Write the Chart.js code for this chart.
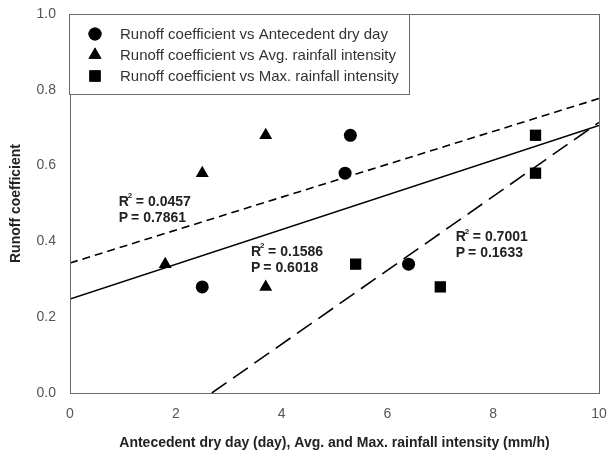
<!DOCTYPE html>
<html>
<head>
<meta charset="utf-8">
<script src="https://cdn.jsdelivr.net/npm/chart.js@4/dist/chart.umd.min.js"></script>
<style>
html,body{margin:0;padding:0;background:#fff;}
#wrap{width:607px;height:454px;position:relative;}
</style>
</head>
<body>
<div id="wrap"><canvas id="c" width="607" height="454"></canvas></div>
<script>
// ---- data ----
const dryDayX = [2.5, 5.2, 5.3, 6.4];
const dryDayY = [0.28, 0.58, 0.68, 0.34];
const avgX = [1.8, 2.5, 3.7, 3.7];
const avgY = [0.34, 0.58, 0.68, 0.28];
const maxX = [5.4, 7.0, 8.8, 8.8];
const maxY = [0.34, 0.28, 0.68, 0.58];
// fitted lines, endpoints
const dryFitX = [0, 10];
const dryFitY = [0.248, 0.706];
const avgFitX = [0, 10];
const avgFitY = [0.343, 0.777];
const maxFitX = [2.68, 10];
const maxFitY = [0, 0.714];
const seriesNames = [
  'Runoff coefficient vs Antecedent dry day',
  'Runoff coefficient vs Avg. rainfall intensity',
  'Runoff coefficient vs Max. rainfall intensity'
];
const xTicks = [0, 2, 4, 6, 8, 10];
const yTicks = [0.0, 0.2, 0.4, 0.6, 0.8, 1.0];
const statLabels = [
  {r2: '0.0457', p: '0.7861'},
  {r2: '0.1586', p: '0.6018'},
  {r2: '0.7001', p: '0.1633'}
];

const zip = (xs, ys) => xs.map((x, i) => ({x: x, y: ys[i]}));

const FONT = '"Liberation Sans", Arial, sans-serif';

const framePlugin = {
  id: 'frame',
  afterDraw(chart) {
    const {ctx, chartArea: a} = chart;
    ctx.save();
    ctx.strokeStyle = '#6a6a6a';
    ctx.lineWidth = 1;
    ctx.strokeRect(a.left + 0.5, a.top + 0.5, a.right - a.left, a.bottom - a.top);
    ctx.restore();
  }
};

const legendPlugin = {
  id: 'boxLegend',
  afterDraw(chart) {
    const {ctx, chartArea: a} = chart;
    const bx = a.left - 1, by = a.top, bw = 340, bh = 80;
    ctx.save();
    ctx.fillStyle = '#fff';
    ctx.fillRect(bx, by, bw, bh);
    ctx.strokeStyle = '#6a6a6a';
    ctx.lineWidth = 1;
    ctx.strokeRect(bx + 0.5, by + 0.5, bw, bh);
    const styles = ['circle', 'triangle', 'rect'];
    const radii = [6.5, 7.5, 8];
    ctx.font = '15px ' + FONT;
    ctx.textBaseline = 'middle';
    for (let i = 0; i < 3; i++) {
      const y = by + 20 + i * 21;
      ctx.fillStyle = '#000';
      ctx.strokeStyle = '#000';
      Chart.helpers.drawPoint(ctx, {pointStyle: styles[i], radius: radii[i], borderWidth: 0}, bx + 26, y);
      ctx.fill();
      ctx.fillStyle = '#333';
      ctx.fillText(seriesNames[i], bx + 51, y + 1);
    }
    ctx.restore();
  }
};

const statPlugin = {
  id: 'stats',
  afterDraw(chart) {
    const {ctx, scales} = chart;
    const pos = [{x: 0.92, y: 0.504}, {x: 3.42, y: 0.372}, {x: 7.29, y: 0.41}];
    ctx.save();
    ctx.fillStyle = '#222';
    ctx.textBaseline = 'middle';
    ctx.textAlign = 'left';
    statLabels.forEach((s, i) => {
      const px = scales.x.getPixelForValue(pos[i].x);
      const py = scales.y.getPixelForValue(pos[i].y);
      ctx.font = 'bold 14px ' + FONT;
      ctx.fillText('R', px, py);
      const rw = ctx.measureText('R').width;
      ctx.font = 'bold 8px ' + FONT;
      ctx.fillText('2', px + rw - 1, py - 6);
      ctx.font = 'bold 14px ' + FONT;
      let x = px + rw + 4;
      ctx.fillText('=', x + 3, py);
      x += ctx.measureText('=').width + 6;
      ctx.fillText(s.r2, x + 1, py);
      ctx.fillText('P', px, py + 16);
      const pw = ctx.measureText('P').width;
      ctx.fillText('=', px + pw + 3, py + 16);
      ctx.fillText(s.p, px + pw + ctx.measureText('=').width + 7, py + 16);
    });
    ctx.restore();
  }
};

const pointDs = (label, xs, ys, style, r) => ({
  type: 'scatter', label: label, data: zip(xs, ys),
  pointStyle: style, pointRadius: r, pointHoverRadius: r,
  backgroundColor: '#000', borderColor: '#000', borderWidth: 0
});
const lineDs = (xs, ys, dash) => ({
  type: 'line', data: zip(xs, ys), showLine: true,
  borderColor: '#000', borderWidth: 1.6, borderDash: dash,
  pointRadius: 0, fill: false, tension: 0
});

new Chart(document.getElementById('c'), {
  type: 'scatter',
  data: {
    datasets: [
      lineDs(dryFitX, dryFitY, []),
      lineDs(avgFitX, avgFitY, [8, 5]),
      lineDs(maxFitX, maxFitY, [18, 8]),
      pointDs(seriesNames[0], dryDayX, dryDayY, 'circle', 6.5),
      pointDs(seriesNames[1], avgX, avgY, 'triangle', 7.5),
      pointDs(seriesNames[2], maxX, maxY, 'rect', 8)
    ]
  },
  options: {
    responsive: false,
    animation: false,
    layout: {padding: {top: 14, right: 7, left: 0, bottom: 0}},
    plugins: {legend: {display: false}, tooltip: {enabled: false}},
    scales: {
      x: {
        type: 'linear', min: 0, max: 10,
        afterBuildTicks: s => { s.ticks = xTicks.map(v => ({value: v})); },
        afterFit: s => { s.height = 61; s.paddingRight = 0; s.paddingLeft = 0; },
        grid: {display: false, drawTicks: true, tickLength: 5, tickColor: '#6a6a6a'},
        border: {display: true, color: '#6a6a6a'},
        ticks: {color: '#555', font: {family: FONT, size: 14}, padding: 8, callback: v => String(v)},
        title: {display: true, text: 'Antecedent dry day (day), Avg. and Max. rainfall intensity (mm/h)',
          color: '#222', font: {family: FONT, size: 14, weight: 'bold'}, padding: {top: 4, bottom: 2}}
      },
      y: {
        type: 'linear', min: 0, max: 1,
        afterBuildTicks: s => { s.ticks = yTicks.map(v => ({value: v})); },
        afterFit: s => { s.width = 70; s.paddingTop = 0; s.paddingBottom = 0; },
        grid: {display: false, drawTicks: true, tickLength: 6, tickColor: '#6a6a6a'},
        border: {display: true, color: '#6a6a6a'},
        ticks: {color: '#555', font: {family: FONT, size: 14}, padding: 8, callback: v => v.toFixed(1)},
        title: {display: true, text: 'Runoff coefficient',
          color: '#222', font: {family: FONT, size: 14, weight: 'bold'}, padding: {top: 8, bottom: 4}}
      }
    }
  },
  plugins: [framePlugin, legendPlugin, statPlugin]
});
</script>
</body>
</html>
